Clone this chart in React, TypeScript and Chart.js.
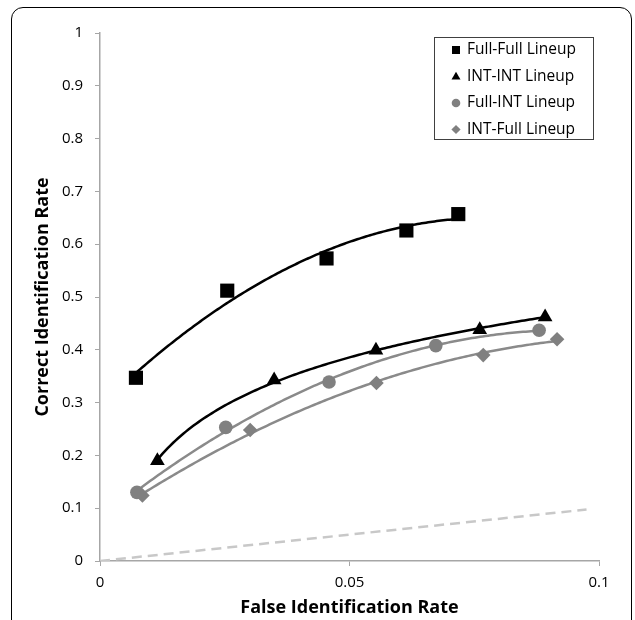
import React, { useEffect, useRef } from 'react';
import { Chart, registerables } from 'chart.js';

Chart.register(...registerables);

// ---------- data ----------
const seriesNames = ['Full-Full Lineup', 'INT-INT Lineup', 'Full-INT Lineup', 'INT-Full Lineup'];

const fullFullX = [0.0072, 0.0255, 0.0454, 0.0614, 0.0718];
const fullFullY = [0.347, 0.512, 0.573, 0.626, 0.657];

const intIntX = [0.0115, 0.0349, 0.0553, 0.0761, 0.0892];
const intIntY = [0.19, 0.343, 0.399, 0.438, 0.462];

const fullIntX = [0.0074, 0.0252, 0.0459, 0.0673, 0.088];
const fullIntY = [0.13, 0.253, 0.339, 0.408, 0.437];

const intFullX = [0.0085, 0.0301, 0.0554, 0.0768, 0.0916];
const intFullY = [0.124, 0.248, 0.337, 0.39, 0.42];

const chanceX = [0, 0.0975];
const chanceY = [0, 0.0975];

const xTickValues = [0, 0.05, 0.1];
const xTickLabels = ['0', '0.05', '0.1'];
const yTickValues = [0, 0.1, 0.2, 0.3, 0.4, 0.5, 0.6, 0.7, 0.8, 0.9, 1];
const yTickLabels = ['0', '0.1', '0.2', '0.3', '0.4', '0.5', '0.6', '0.7', '0.8', '0.9', '1'];

const xTitle = 'False Identification Rate';
const yTitle = 'Correct Identification Rate';

// ---------- styles ----------
const FONT = "'Open Sans', 'Liberation Sans', sans-serif";
const BLACK = '#000000';
const GRAY = '#808080';
const GRAY_LINE = '#8a8a8a';
const AXIS = '#a6a6a6';

type FitKind = 'log' | 'power' | 'poly2';

function fitCurve(xs: number[], ys: number[], kind: FitKind): (x: number) => number {
  const n = xs.length;
  if (kind === 'log' || kind === 'power') {
    const X = xs.map(Math.log);
    const Y = kind === 'power' ? ys.map(Math.log) : ys.slice();
    const mx = X.reduce((a, b) => a + b, 0) / n;
    const my = Y.reduce((a, b) => a + b, 0) / n;
    let sxy = 0;
    let sxx = 0;
    for (let i = 0; i < n; i++) {
      sxy += (X[i] - mx) * (Y[i] - my);
      sxx += (X[i] - mx) * (X[i] - mx);
    }
    const b = sxy / sxx;
    const a = my - b * mx;
    if (kind === 'power') return (x: number) => Math.exp(a) * Math.pow(x, b);
    return (x: number) => a + b * Math.log(x);
  }
  // quadratic least squares
  let s0 = 0, s1 = 0, s2 = 0, s3 = 0, s4 = 0, t0 = 0, t1 = 0, t2 = 0;
  for (let i = 0; i < n; i++) {
    const x = xs[i];
    const y = ys[i];
    s0 += 1; s1 += x; s2 += x * x; s3 += x * x * x; s4 += x * x * x * x;
    t0 += y; t1 += x * y; t2 += x * x * y;
  }
  const det3 = (m: number[][]) =>
    m[0][0] * (m[1][1] * m[2][2] - m[1][2] * m[2][1]) -
    m[0][1] * (m[1][0] * m[2][2] - m[1][2] * m[2][0]) +
    m[0][2] * (m[1][0] * m[2][1] - m[1][1] * m[2][0]);
  const M = [
    [s0, s1, s2],
    [s1, s2, s3],
    [s2, s3, s4],
  ];
  const T = [t0, t1, t2];
  const D = det3(M);
  const coef = [0, 1, 2].map((k) => {
    const Mk = M.map((row, r) => row.map((v, c) => (c === k ? T[r] : v)));
    return det3(Mk) / D;
  });
  return (x: number) => coef[0] + coef[1] * x + coef[2] * x * x;
}

const trendDefs: { xs: number[]; ys: number[]; kind: FitKind; color: string }[] = [
  { xs: fullFullX, ys: fullFullY, kind: 'poly2', color: BLACK },
  { xs: intIntX, ys: intIntY, kind: 'log', color: BLACK },
  { xs: fullIntX, ys: fullIntY, kind: 'poly2', color: GRAY_LINE },
  { xs: intFullX, ys: intFullY, kind: 'poly2', color: GRAY_LINE },
];

const toPoints = (xs: number[], ys: number[]) => xs.map((x, i) => ({ x, y: ys[i] }));

const trendPlugin = {
  id: 'trendlines',
  beforeDatasetsDraw(chart: any) {
    const { ctx, chartArea, scales } = chart;
    const xs = scales.x;
    const ys = scales.y;
    ctx.save();
    ctx.beginPath();
    ctx.rect(chartArea.left, chartArea.top, chartArea.right - chartArea.left, chartArea.bottom - chartArea.top);
    ctx.clip();
    trendDefs.forEach((t) => {
      const f = fitCurve(t.xs, t.ys, t.kind);
      const x0 = Math.min(...t.xs);
      const x1 = Math.max(...t.xs);
      ctx.beginPath();
      const steps = 150;
      for (let i = 0; i <= steps; i++) {
        const xv = x0 + ((x1 - x0) * i) / steps;
        const px = xs.getPixelForValue(xv);
        const py = ys.getPixelForValue(f(xv));
        if (i === 0) ctx.moveTo(px, py);
        else ctx.lineTo(px, py);
      }
      ctx.strokeStyle = t.color;
      ctx.lineWidth = 2.5;
      ctx.lineJoin = 'round';
      ctx.lineCap = 'butt';
      ctx.stroke();
    });
    ctx.restore();
  },
};

function drawMarker(ctx: CanvasRenderingContext2D, style: string, x: number, y: number, r: number, color: string) {
  ctx.fillStyle = color;
  ctx.beginPath();
  if (style === 'rect') {
    ctx.rect(x - r, y - r, 2 * r, 2 * r);
  } else if (style === 'triangle') {
    const h = r * 1.732;
    ctx.moveTo(x, y - h * 0.6);
    ctx.lineTo(x + r, y + h * 0.4);
    ctx.lineTo(x - r, y + h * 0.4);
    ctx.closePath();
  } else if (style === 'circle') {
    ctx.arc(x, y, r, 0, Math.PI * 2);
  } else {
    ctx.moveTo(x, y - r);
    ctx.lineTo(x + r, y);
    ctx.lineTo(x, y + r);
    ctx.lineTo(x - r, y);
    ctx.closePath();
  }
  ctx.fill();
}

const legendStyles = [
  { style: 'rect', r: 4, color: BLACK },
  { style: 'triangle', r: 4.5, color: BLACK },
  { style: 'circle', r: 4.3, color: GRAY },
  { style: 'diamond', r: 4.6, color: GRAY },
];

const annotatePlugin = {
  id: 'annotate',
  afterDraw(chart: any) {
    const { ctx, chartArea } = chart;
    ctx.save();
    // axis titles
    ctx.fillStyle = '#000';
    ctx.font = `bold 18px ${FONT}`;
    ctx.textAlign = 'center';
    ctx.textBaseline = 'middle';
    ctx.fillText(xTitle, (chartArea.left + chartArea.right) / 2, 608);
    ctx.save();
    ctx.translate(43, (chartArea.top + chartArea.bottom) / 2);
    ctx.rotate(-Math.PI / 2);
    ctx.fillText(yTitle, 0, 0);
    ctx.restore();

    // legend
    const bx = chartArea.right - 165;
    const by = chartArea.top + 4;
    const bw = 159;
    const bh = 102;
    ctx.fillStyle = '#fff';
    ctx.fillRect(bx, by, bw, bh);
    ctx.strokeStyle = '#404040';
    ctx.lineWidth = 1;
    ctx.strokeRect(Math.round(bx) + 0.5, Math.round(by) + 0.5, bw, bh);
    ctx.font = `15.5px ${FONT}`;
    ctx.textAlign = 'left';
    ctx.textBaseline = 'middle';
    seriesNames.forEach((name, i) => {
      const cy = by + 13 + i * 26.5;
      const ls = legendStyles[i];
      drawMarker(ctx, ls.style, bx + 22, cy, ls.r, ls.color);
      ctx.fillStyle = '#000';
      ctx.fillText(name, bx + 33, cy);
    });
    ctx.restore();
  },
};

export default function App() {
  const ref = useRef<HTMLCanvasElement>(null);

  useEffect(() => {
    if (!ref.current) return;
    const tickFont = { family: FONT, size: 15 };
    const chart = new Chart(ref.current, {
      type: 'scatter',
      data: {
        datasets: [
          {
            label: seriesNames[0],
            data: toPoints(fullFullX, fullFullY),
            pointStyle: 'rect',
            pointRadius: 10,
            backgroundColor: BLACK,
            borderColor: BLACK,
            borderWidth: 0,
          },
          {
            label: seriesNames[1],
            data: toPoints(intIntX, intIntY),
            pointStyle: 'triangle',
            pointRadius: 8.5,
            backgroundColor: BLACK,
            borderColor: BLACK,
            borderWidth: 0,
          },
          {
            label: seriesNames[2],
            data: toPoints(fullIntX, fullIntY),
            pointStyle: 'circle',
            pointRadius: 6.8,
            backgroundColor: GRAY,
            borderColor: GRAY,
            borderWidth: 0,
          },
          {
            label: seriesNames[3],
            data: toPoints(intFullX, intFullY),
            pointStyle: 'rectRot',
            pointRadius: 7.3,
            backgroundColor: GRAY,
            borderColor: GRAY,
            borderWidth: 0,
          },
          {
            label: 'chance',
            data: toPoints(chanceX, chanceY),
            showLine: true,
            pointRadius: 0,
            borderColor: '#c8c8c8',
            borderWidth: 2.5,
            borderDash: [10, 6],
          } as any,
        ],
      },
      options: {
        responsive: false,
        animation: false,
        devicePixelRatio: 1,
        layout: { padding: { left: 0, top: 33, right: 36, bottom: 0 } },
        plugins: {
          legend: { display: false },
          tooltip: { enabled: false },
        },
        scales: {
          x: {
            type: 'linear',
            min: 0,
            max: 0.1,
            afterFit: (s: any) => {
              s.height = 59;
            },
            afterBuildTicks: (s: any) => {
              s.ticks = xTickValues.map((v) => ({ value: v }));
            },
            ticks: {
              callback: (_v: any, i: number) => xTickLabels[i],
              font: tickFont,
              color: '#000',
              padding: 8,
              maxRotation: 0,
              autoSkip: false,
            },
            grid: { drawOnChartArea: false, drawTicks: true, tickLength: 5, color: AXIS },
            border: { color: AXIS, width: 1.5 },
          },
          y: {
            type: 'linear',
            min: 0,
            max: 1,
            afterFit: (s: any) => {
              s.width = 100;
            },
            afterBuildTicks: (s: any) => {
              s.ticks = yTickValues.map((v) => ({ value: v }));
            },
            ticks: {
              callback: (_v: any, i: number) => yTickLabels[i],
              font: tickFont,
              color: '#000',
              padding: 12,
              autoSkip: false,
            },
            grid: { drawOnChartArea: false, drawTicks: true, tickLength: 5, color: AXIS },
            border: { color: AXIS, width: 1.5 },
          },
        },
      } as any,
      plugins: [trendPlugin, annotatePlugin],
    });
    return () => chart.destroy();
  }, []);

  return (
    <div
      style={{
        position: 'fixed',
        left: 0,
        top: 0,
        width: 635,
        height: 620,
        background: '#fff',
        overflow: 'hidden',
      }}
    >
      <canvas
        ref={ref}
        width={635}
        height={620}
        style={{ position: 'absolute', left: 0, top: 0, width: 635, height: 620 }}
      />
      <div
        style={{
          position: 'absolute',
          left: 11,
          top: 7,
          width: 619,
          height: 680,
          border: '1px solid #000',
          borderRadius: 12,
          pointerEvents: 'none',
        }}
      />
    </div>
  );
}
